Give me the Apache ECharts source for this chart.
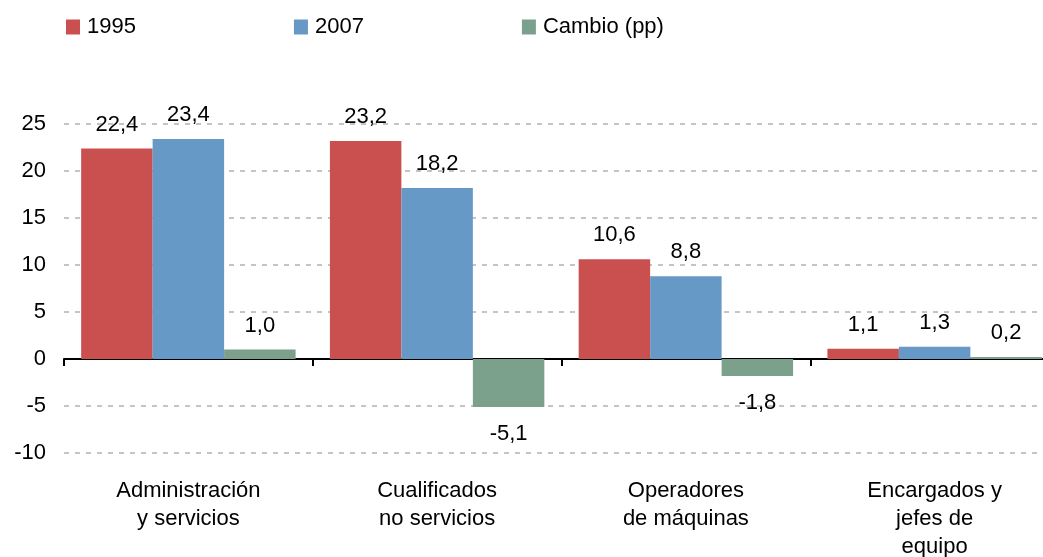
<!DOCTYPE html>
<html>
<head>
<meta charset="utf-8">
<script src="https://cdn.jsdelivr.net/npm/echarts@6/dist/echarts.min.js"></script>
<style>
  html, body { margin: 0; padding: 0; background: #fff; }
  #chart { width: 1043px; height: 557px; }
</style>
</head>
<body>
<div id="chart"></div>
<script>
// categorías del eje x
const categories = ['Administración\ny servicios', 'Cualificados\nno servicios', 'Operadores\nde máquinas', 'Encargados y\njefes de\nequipo'];
const values1995 = [22.4, 23.2, 10.6, 1.1];
const values2007 = [23.4, 18.2, 8.8, 1.3];
const cambio = [1.0, -5.1, -1.8, 0.2];
const yTicks = {min: -10, max: 25, interval: 5};

const font = '"Liberation Sans", Arial, sans-serif';
const fmt = p => p.value.toFixed(1).replace('.', ',');

const chart = echarts.init(document.getElementById('chart'));

function barSeries(name, data, color) {
    return {
        name: name,
        type: 'bar',
        barGap: 0,
        barCategoryGap: '13.8%',
        itemStyle: {color: color},
        label: {
            show: true,
            position: 'top',
            distance: 13,
            formatter: fmt,
            color: '#000',
            fontSize: 22,
            fontFamily: font
        },
        data: data.map(v => ({
            value: v,
            label: v < 0 ? {position: 'bottom', distance: 16} : undefined
        }))
    };
}

chart.setOption({
    animation: false,
    textStyle: {fontFamily: font},
    legend: {
        left: 66,
        top: 16,
        padding: 0,
        itemWidth: 14,
        itemHeight: 15,
        itemGap: 158,
        icon: 'rect',
        textStyle: {fontSize: 22, color: '#000', fontFamily: font, padding: [0, 0, 0, 2]},
        data: ['1995', '2007', 'Cambio (pp)']
    },
    grid: {left: 64, right: -16, top: 124, bottom: 104, containLabel: false, outerBoundsMode: 'none'},
    xAxis: [{
        type: 'category',
        data: categories,
        axisLine: {onZero: true, lineStyle: {color: '#000', width: 2}},
        axisTick: {show: true, length: 7, lineStyle: {color: '#000', width: 2}},
        axisLabel: {show: false}
    }, {
        // eje auxiliar solo para las etiquetas bajo el gráfico
        type: 'category',
        position: 'bottom',
        data: categories,
        axisLine: {show: false, onZero: false},
        axisTick: {show: false},
        axisLabel: {
            margin: 24,
            fontSize: 22,
            lineHeight: 28,
            color: '#000',
            fontFamily: font,
            interval: 0
        }
    }],
    yAxis: {
        type: 'value',
        min: yTicks.min,
        max: yTicks.max,
        interval: yTicks.interval,
        axisLine: {show: false},
        axisTick: {show: false},
        axisLabel: {fontSize: 22, color: '#000', fontFamily: font, margin: 18},
        splitLine: {lineStyle: {color: '#C4C4C4', width: 2, type: [5, 6]}}
    },
    series: [
        barSeries('1995', values1995, '#C9504F'),
        barSeries('2007', values2007, '#6699C5'),
        barSeries('Cambio (pp)', cambio, '#7BA08C')
    ]
});
</script>
</body>
</html>
